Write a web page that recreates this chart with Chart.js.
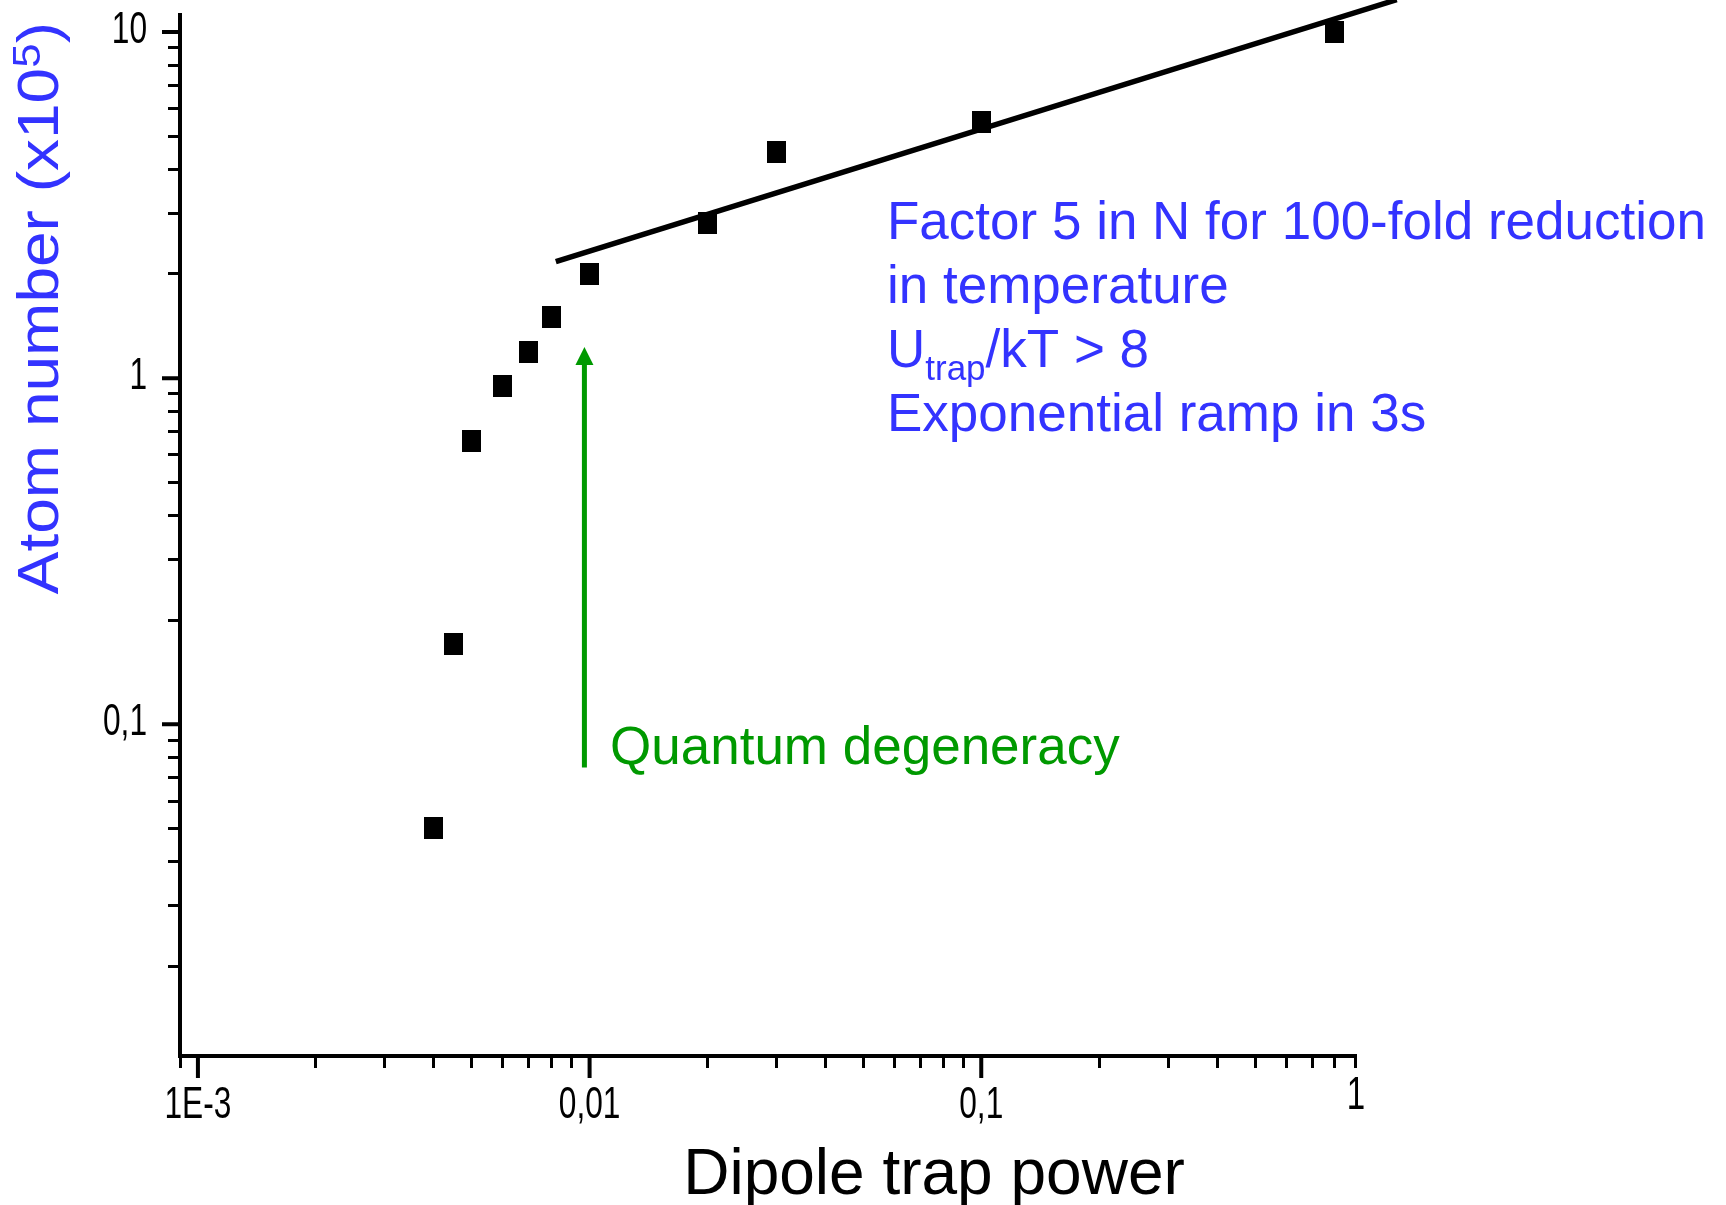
<!DOCTYPE html>
<html>
<head>
<meta charset="utf-8">
<title>Atom number vs dipole trap power</title>
<script src="https://cdn.jsdelivr.net/npm/chart.js@4.4.1/dist/chart.umd.min.js"></script>
<style>
  html, body { margin: 0; padding: 0; background: #fff; }
  canvas { display: block; }
</style>
</head>
<body>
<canvas id="atomChart" width="1726" height="1205"></canvas>
<script>
const trapPower = [0.004, 0.0045, 0.005, 0.006, 0.007, 0.008, 0.01, 0.02, 0.03, 0.1, 0.8];
const atomNumber = [0.05, 0.17, 0.66, 0.95, 1.19, 1.5, 2.0, 2.8, 4.5, 5.5, 10];

// power law fit, roughly N ~ P^0.35
const fitPower = [0.0082, 1.15];
const fitAtoms = [2.17, 12.4];

// green arrow (quantum degeneracy)
const arrowPower = [0.0097, 0.0097];
const arrowAtoms = [0.075, 1.23];

const xRange = [0.0009, 0.9];
const yRange = [0.011, 11.2];
const xTickValues = [0.001, 0.01, 0.1];
const xTickLabels = ['1E-3', '0,01', '0,1'];
const yTickValues = [0.1, 1, 10];
const yTickLabels = ['0,1', '1', '10'];
const minorMultipliers = [1, 2, 3, 4, 5, 6, 7, 8, 9];

const BLUE = '#3333ff';
const GREEN = '#009900';
const SANS = '"Liberation Sans", Arial, sans-serif';

// black marker, a bit taller than wide like in the original
const marker = document.createElement('canvas');
marker.width = 19;
marker.height = 22;
const mctx = marker.getContext('2d');
mctx.fillStyle = '#000';
mctx.fillRect(0, 0, 19, 22);

function logTicks(min, max) {
  const ticks = [];
  for (let e = Math.floor(Math.log10(min)); e <= Math.ceil(Math.log10(max)); e++) {
    minorMultipliers.forEach(m => {
      const v = parseFloat((m * Math.pow(10, e)).toPrecision(6));
      if (v >= min * 0.9999 && v <= max * 1.0001) ticks.push({ value: v });
    });
  }
  return ticks;
}

// the original tick labels are condensed, so squeeze them horizontally
function narrowText(ctx, text, x, y, size, align) {
  ctx.save();
  ctx.translate(x, y);
  ctx.scale(0.72, 1);
  ctx.font = size + 'px ' + SANS;
  ctx.textAlign = align;
  ctx.textBaseline = 'middle';
  ctx.fillText(text, 0, 0);
  ctx.restore();
}

const decorations = {
  id: 'decorations',
  afterDraw(chart) {
    const { ctx, chartArea, scales: { x, y } } = chart;
    ctx.save();

    // longer major ticks
    ctx.strokeStyle = '#000';
    ctx.lineWidth = 4;
    ctx.beginPath();
    xTickValues.forEach(v => {
      const px = x.getPixelForValue(v);
      ctx.moveTo(px, chartArea.bottom);
      ctx.lineTo(px, chartArea.bottom + 22);
    });
    yTickValues.forEach(v => {
      const py = y.getPixelForValue(v);
      ctx.moveTo(chartArea.left, py);
      ctx.lineTo(chartArea.left - 18, py);
    });
    ctx.stroke();

    // tick labels
    ctx.fillStyle = '#000';
    xTickValues.forEach((v, i) => {
      narrowText(ctx, xTickLabels[i], x.getPixelForValue(v), chartArea.bottom + 50, 44, 'center');
    });
    yTickValues.forEach((v, i) => {
      narrowText(ctx, yTickLabels[i], chartArea.left - 33, y.getPixelForValue(v) - 1, 44, 'right');
    });
    // the "1" sits at the end of the axis
    narrowText(ctx, '1', chartArea.right + 1, chartArea.bottom + 40, 46, 'center');

    // x axis title
    ctx.font = '64px ' + SANS;
    ctx.textAlign = 'center';
    ctx.textBaseline = 'alphabetic';
    ctx.fillText('Dipole trap power', 934, 1194);

    // y axis title, rotated, with a real superscript
    ctx.save();
    ctx.fillStyle = BLUE;
    ctx.translate(58, 0);
    ctx.scale(0.9, 1);
    ctx.rotate(-Math.PI / 2);
    const big = '64px ' + SANS;
    const small = '44px ' + SANS;
    ctx.textAlign = 'left';
    ctx.font = big;
    const w1 = ctx.measureText('Atom number (x10').width;
    const w3 = ctx.measureText(')').width;
    ctx.font = small;
    const w2 = ctx.measureText('5').width;
    let u = -(22 + w1 + w2 + w3);
    ctx.font = big;
    ctx.fillText('Atom number (x10', u, 0);
    u += w1;
    ctx.font = small;
    ctx.fillText('5', u, -20);
    u += w2;
    ctx.font = big;
    ctx.fillText(')', u, 0);
    ctx.restore();

    // green arrow
    const ax = x.getPixelForValue(arrowPower[0]);
    const ay0 = y.getPixelForValue(arrowAtoms[0]);
    const ay1 = y.getPixelForValue(arrowAtoms[1]);
    ctx.strokeStyle = GREEN;
    ctx.fillStyle = GREEN;
    ctx.lineWidth = 5;
    ctx.beginPath();
    ctx.moveTo(ax, ay0);
    ctx.lineTo(ax, ay1 + 15);
    ctx.stroke();
    ctx.beginPath();
    ctx.moveTo(ax, ay1);
    ctx.lineTo(ax + 9, ay1 + 18);
    ctx.lineTo(ax - 9, ay1 + 18);
    ctx.closePath();
    ctx.fill();

    ctx.textAlign = 'left';
    ctx.font = '53px ' + SANS;
    ctx.fillText('Quantum degeneracy', 610, 764);

    // blue notes
    ctx.fillStyle = BLUE;
    const left = 887;
    ctx.fillText('Factor 5 in N for 100-fold reduction', left, 239);
    ctx.fillText('in temperature', left, 303);
    ctx.fillText('U', left, 367);
    let cx = left + ctx.measureText('U').width;
    ctx.font = '35px ' + SANS;
    ctx.fillText('trap', cx, 380);
    cx += ctx.measureText('trap').width;
    ctx.font = '53px ' + SANS;
    ctx.fillText('/kT > 8', cx, 367);
    ctx.fillText('Exponential ramp in 3s', left, 431);

    ctx.restore();
  }
};

Chart.defaults.font.family = SANS;
Chart.defaults.color = '#000';

new Chart(document.getElementById('atomChart'), {
  type: 'scatter',
  data: {
    datasets: [
      {
        label: 'Atom number',
        data: trapPower.map((p, i) => ({ x: p, y: atomNumber[i] })),
        pointStyle: marker,
        pointRadius: 10,
        pointHoverRadius: 10
      },
      {
        label: 'Fit',
        data: fitPower.map((p, i) => ({ x: p, y: fitAtoms[i] })),
        showLine: true,
        borderColor: '#000',
        borderWidth: 5.5,
        pointRadius: 0,
        clip: false
      }
    ]
  },
  options: {
    responsive: false,
    animation: false,
    devicePixelRatio: 1,
    layout: { padding: { top: 15, right: 371, left: 0, bottom: 0 } },
    plugins: {
      legend: { display: false },
      tooltip: { enabled: false }
    },
    scales: {
      x: {
        type: 'logarithmic',
        min: xRange[0],
        max: xRange[1],
        afterBuildTicks: s => { s.ticks = logTicks(xRange[0], xRange[1]); },
        afterFit: s => {
          s.height = 149;
          s.paddingLeft = 0;
          s.paddingRight = 0;
        },
        grid: { drawOnChartArea: false, drawTicks: true, tickLength: 12, color: '#000', lineWidth: 3 },
        border: { display: true, color: '#000', width: 4 },
        ticks: { display: false, autoSkip: false }
      },
      y: {
        type: 'logarithmic',
        min: yRange[0],
        max: yRange[1],
        afterBuildTicks: s => { s.ticks = logTicks(yRange[0], yRange[1]); },
        afterFit: s => {
          s.width = 180;
          s.paddingTop = 0;
          s.paddingBottom = 0;
        },
        grid: { drawOnChartArea: false, drawTicks: true, tickLength: 12, color: '#000', lineWidth: 3 },
        border: { display: true, color: '#000', width: 4 },
        ticks: { display: false, autoSkip: false }
      }
    }
  },
  plugins: [decorations]
});
</script>
</body>
</html>
